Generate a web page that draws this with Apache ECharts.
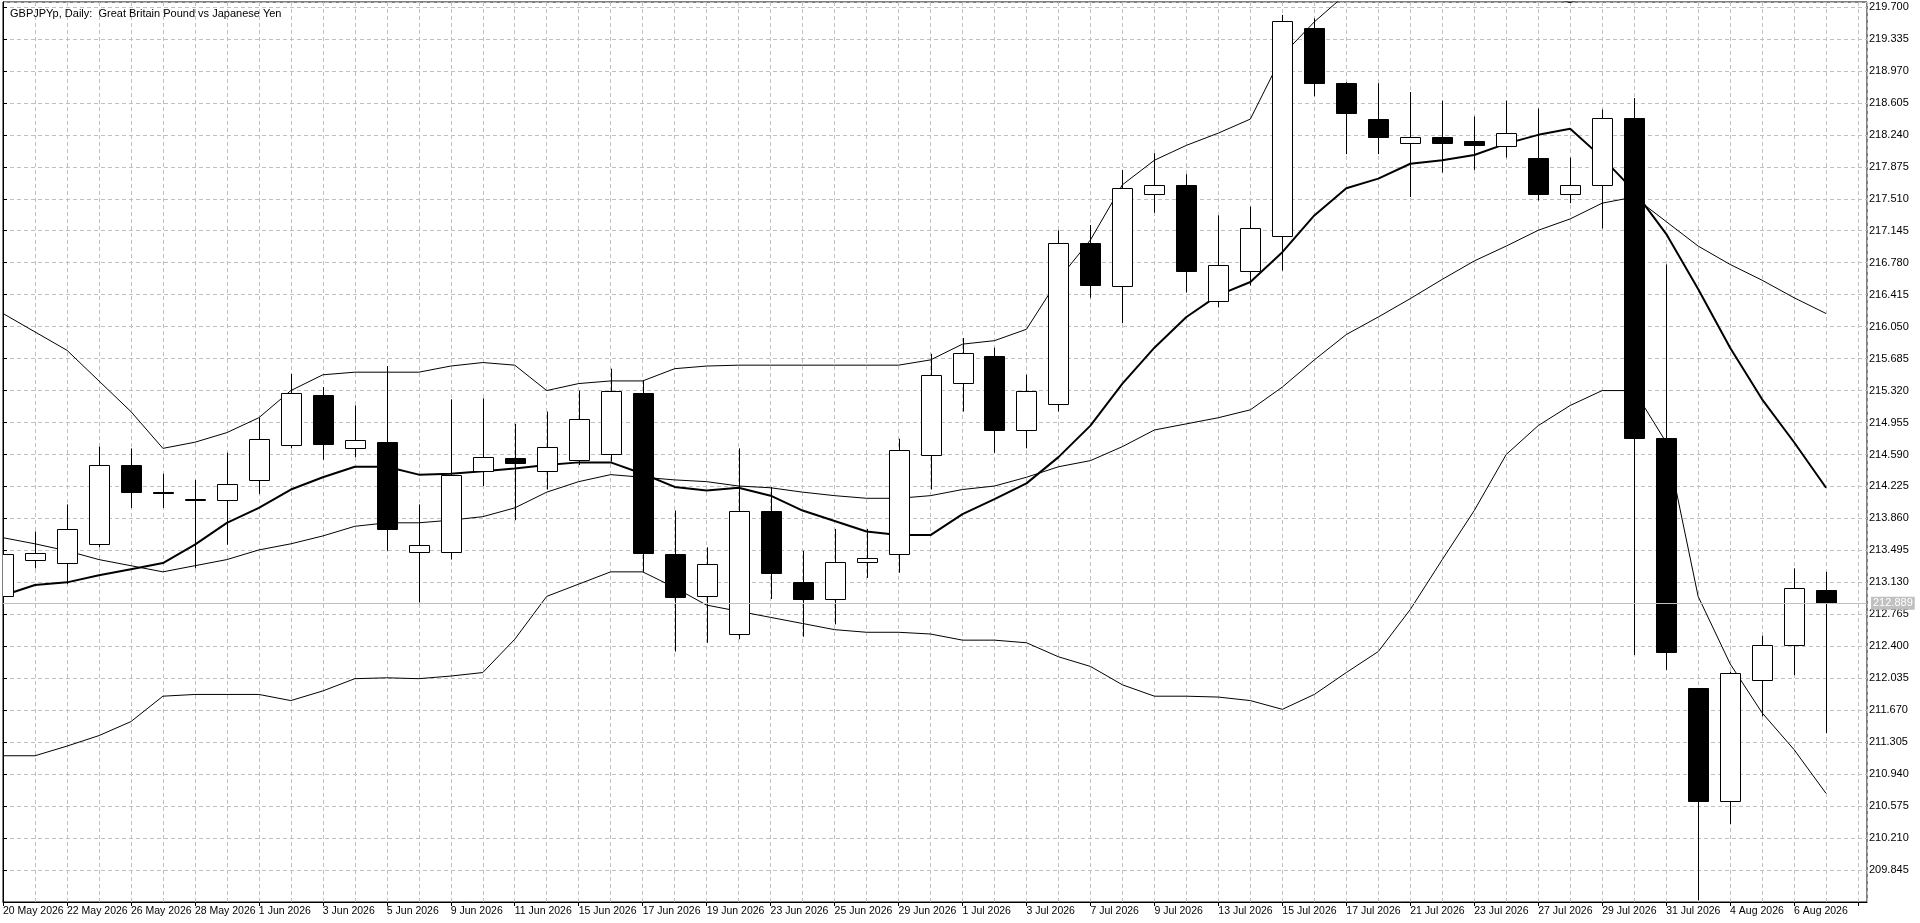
<!DOCTYPE html>
<html><head><meta charset="utf-8">
<script src="https://cdn.jsdelivr.net/npm/echarts@6/dist/echarts.min.js"></script>
<style>html,body{margin:0;padding:0;background:#fff}#c{width:1920px;height:923px}</style>
</head><body><div id="c"></div>
<script>
const dates=["20 May 2026","21 May 2026","22 May 2026","25 May 2026","26 May 2026","27 May 2026","28 May 2026","29 May 2026","1 Jun 2026","2 Jun 2026","3 Jun 2026","4 Jun 2026","5 Jun 2026","8 Jun 2026","9 Jun 2026","10 Jun 2026","11 Jun 2026","12 Jun 2026","15 Jun 2026","16 Jun 2026","17 Jun 2026","18 Jun 2026","19 Jun 2026","22 Jun 2026","23 Jun 2026","24 Jun 2026","25 Jun 2026","26 Jun 2026","29 Jun 2026","30 Jun 2026","1 Jul 2026","2 Jul 2026","3 Jul 2026","6 Jul 2026","7 Jul 2026","8 Jul 2026","9 Jul 2026","10 Jul 2026","13 Jul 2026","14 Jul 2026","15 Jul 2026","16 Jul 2026","17 Jul 2026","20 Jul 2026","21 Jul 2026","22 Jul 2026","23 Jul 2026","24 Jul 2026","27 Jul 2026","28 Jul 2026","29 Jul 2026","30 Jul 2026","31 Jul 2026","3 Aug 2026","4 Aug 2026","5 Aug 2026","6 Aug 2026","7 Aug 2026"];
const opens=[212.97,213.39,213.35,213.57,214.47,214.16,214.07,214.07,214.30,214.70,215.27,214.66,214.73,213.48,213.48,214.40,214.55,214.40,214.53,214.59,215.29,213.45,212.97,212.54,213.95,213.13,212.94,213.36,213.45,214.58,215.41,215.71,214.87,215.17,217.01,216.51,217.56,217.67,216.34,216.69,217.08,219.46,218.83,218.42,218.15,218.21,218.17,218.11,217.98,217.56,217.67,218.43,214.78,211.92,210.63,212.02,212.41,213.04];
const highs=[213.60,213.71,214.02,214.68,214.66,214.37,214.30,214.61,215.01,215.51,215.36,215.15,215.60,214.02,215.22,215.23,214.94,215.08,215.32,215.57,215.43,213.95,213.53,214.66,214.22,213.49,213.74,213.74,214.77,215.74,215.92,215.81,215.50,217.15,217.21,217.84,218.03,217.79,217.32,217.42,219.61,219.57,218.84,218.83,218.73,218.63,218.45,218.63,218.54,217.98,218.53,218.66,216.76,211.92,212.11,212.52,213.29,213.25];
const lows=[212.90,213.29,213.11,213.53,213.98,213.98,213.29,213.56,214.14,214.66,214.53,214.56,213.49,212.90,213.39,214.23,213.84,214.19,214.47,214.51,213.25,212.34,212.44,212.48,212.94,212.51,212.65,213.18,213.24,214.19,215.08,214.61,214.66,215.08,216.38,216.09,217.35,216.44,216.27,216.52,216.69,218.68,218.02,218.02,217.53,217.81,217.84,217.98,217.49,217.46,217.17,212.30,212.13,209.50,210.37,211.60,212.07,211.41];
const closes=[213.45,213.46,213.74,214.47,214.16,214.15,214.08,214.25,214.77,215.29,214.71,214.75,213.74,213.56,214.36,214.56,214.49,214.68,214.99,215.31,213.46,212.96,213.34,213.95,213.24,212.94,213.36,213.41,214.64,215.50,215.75,214.87,215.32,217.01,216.52,217.63,217.67,216.68,216.75,217.18,219.54,218.83,218.49,218.22,218.22,218.15,218.12,218.26,217.56,217.67,218.43,214.78,212.34,210.63,212.09,212.41,213.07,212.889];
const fastMA=[212.98,213.10,213.13,213.21,213.28,213.35,213.56,213.81,213.98,214.19,214.33,214.45,214.45,214.36,214.37,214.40,214.43,214.47,214.50,214.50,214.37,214.22,214.18,214.21,214.12,213.95,213.83,213.71,213.67,213.67,213.91,214.08,214.26,214.56,214.92,215.40,215.81,216.16,216.41,216.56,216.90,217.32,217.63,217.74,217.91,217.95,218.01,218.14,218.24,218.31,217.98,217.60,217.11,216.48,215.81,215.22,214.73,214.21];
const bandMid=[213.64,213.57,213.49,213.39,213.32,213.25,213.32,213.39,213.50,213.57,213.66,213.77,213.81,213.81,213.84,213.88,213.98,214.16,214.28,214.36,214.33,214.30,214.28,214.23,214.21,214.16,214.12,214.09,214.09,214.12,214.19,214.23,214.33,214.45,214.52,214.68,214.87,214.94,215.01,215.10,215.36,215.67,215.96,216.16,216.37,216.59,216.80,216.97,217.15,217.28,217.46,217.53,217.25,216.97,216.76,216.58,216.38,216.20];
const bandUpper=[216.20,215.99,215.78,215.43,215.08,214.66,214.73,214.84,215.01,215.32,215.50,215.53,215.53,215.53,215.60,215.64,215.61,215.32,215.40,215.43,215.43,215.57,215.60,215.61,215.61,215.61,215.61,215.61,215.61,215.67,215.85,215.89,216.02,216.59,217.04,217.67,217.95,218.12,218.26,218.42,219.15,219.53,219.85,219.92,219.95,219.95,219.92,219.89,219.85,219.75,219.89,220.50,221.00,221.30,221.50,221.60,221.60,221.60];
const bandLower=[211.15,211.15,211.26,211.38,211.54,211.83,211.85,211.85,211.85,211.78,211.89,212.03,212.04,212.03,212.06,212.10,212.48,212.97,213.11,213.25,213.25,213.07,212.87,212.80,212.73,212.66,212.59,212.56,212.56,212.54,212.47,212.47,212.44,212.28,212.17,211.96,211.83,211.83,211.82,211.78,211.68,211.85,212.10,212.34,212.82,213.39,213.95,214.59,214.92,215.15,215.32,215.32,214.73,212.97,212.20,211.64,211.22,210.72];
const currentPrice=212.889;

const font='"Liberation Sans", Arial, sans-serif';
const ohlc=dates.map((d,i)=>[i,opens[i],highs[i],lows[i],closes[i]]);
const pts=a=>a.map((v,i)=>[i,v]);
const chart=echarts.init(document.getElementById('c'),null,{renderer:'canvas'});
const lineS=(data,w)=>({type:'line',data:pts(data),symbol:'none',clip:true,silent:true,
  lineStyle:{color:'#000',width:w},z:3,animation:false});
chart.setOption({
  animation:false,
  backgroundColor:'#fff',
  title:{text:'GBPJPYp, Daily:  Great Britain Pound vs Japanese Yen',left:5,top:3,
    textStyle:{fontFamily:font,fontSize:11,fontWeight:'normal',color:'#000'}},
  grid:{left:2,right:53,top:2,bottom:21,show:true,borderColor:'#000',borderWidth:1},
  xAxis:{type:'value',min:0,max:58.28,interval:2,
    axisLine:{show:true,lineStyle:{color:'#000'}},
    axisTick:{show:true,length:4,lineStyle:{color:'#000'}},
    axisLabel:{fontFamily:font,fontSize:10.5,color:'#000',align:'left',margin:4,showMaxLabel:false,
      formatter:v=>Number.isInteger(v)&&dates[v]?dates[v]:''},
    splitLine:{show:true,lineStyle:{color:'#c0c0c0',type:[4,3]}},
    minorTick:{show:false,splitNumber:2},
    minorSplitLine:{show:true,lineStyle:{color:'#c0c0c0',type:[4,3]}}},
  yAxis:{type:'value',position:'right',min:209.48,max:219.757,interval:0.365,scale:true,
    axisLine:{show:true,lineStyle:{color:'#000'}},
    axisTick:{show:true,length:4,lineStyle:{color:'#000'}},
    axisLabel:{fontFamily:font,fontSize:11,color:'#000',margin:2,showMinLabel:false,showMaxLabel:false,
      formatter:v=>v.toFixed(3)},
    splitLine:{show:true,lineStyle:{color:'#c0c0c0',type:[4,3]}}},
  series:[
    lineS(bandUpper,1),lineS(bandMid,1),lineS(bandLower,1),lineS(fastMA,2),
    {type:'custom',data:ohlc,z:4,clip:true,
      encode:{x:0,y:[1,2,3,4]},
      renderItem:(params,api)=>{
        const i=api.value(0),o=api.value(1),h=api.value(2),l=api.value(3),c=api.value(4);
        const [x,yo]=api.coord([i,o]);const yc=api.coord([i,c])[1];
        const yh=api.coord([i,h])[1];const yl=api.coord([i,l])[1];
        const w=21;const xr=Math.round(x)+0.5;
        const top=Math.round(Math.min(yo,yc))+0.5,bot=Math.round(Math.max(yo,yc))+0.5;
        const up=c>=o;
        return {type:'group',children:[
          {type:'line',shape:{x1:xr,y1:yh,x2:xr,y2:yl},style:{stroke:'#000',lineWidth:1}},
          {type:'rect',shape:{x:xr-Math.floor(w/2),y:top,width:w-1,height:Math.max(bot-top,1)},
            style:{fill:up?'#fff':'#000',stroke:'#000',lineWidth:1}}
        ]};
      },
      markLine:{symbol:'none',silent:true,animation:false,
        lineStyle:{color:'#c0c0c0',type:'solid',width:1},
        label:{position:'end',distance:4,formatter:()=>currentPrice.toFixed(3),
          backgroundColor:'#c0c0c0',color:'#fff',fontFamily:font,fontSize:11,padding:[1,2]},
        data:[{yAxis:currentPrice}]}
    }
  ]
});
</script></body></html>
